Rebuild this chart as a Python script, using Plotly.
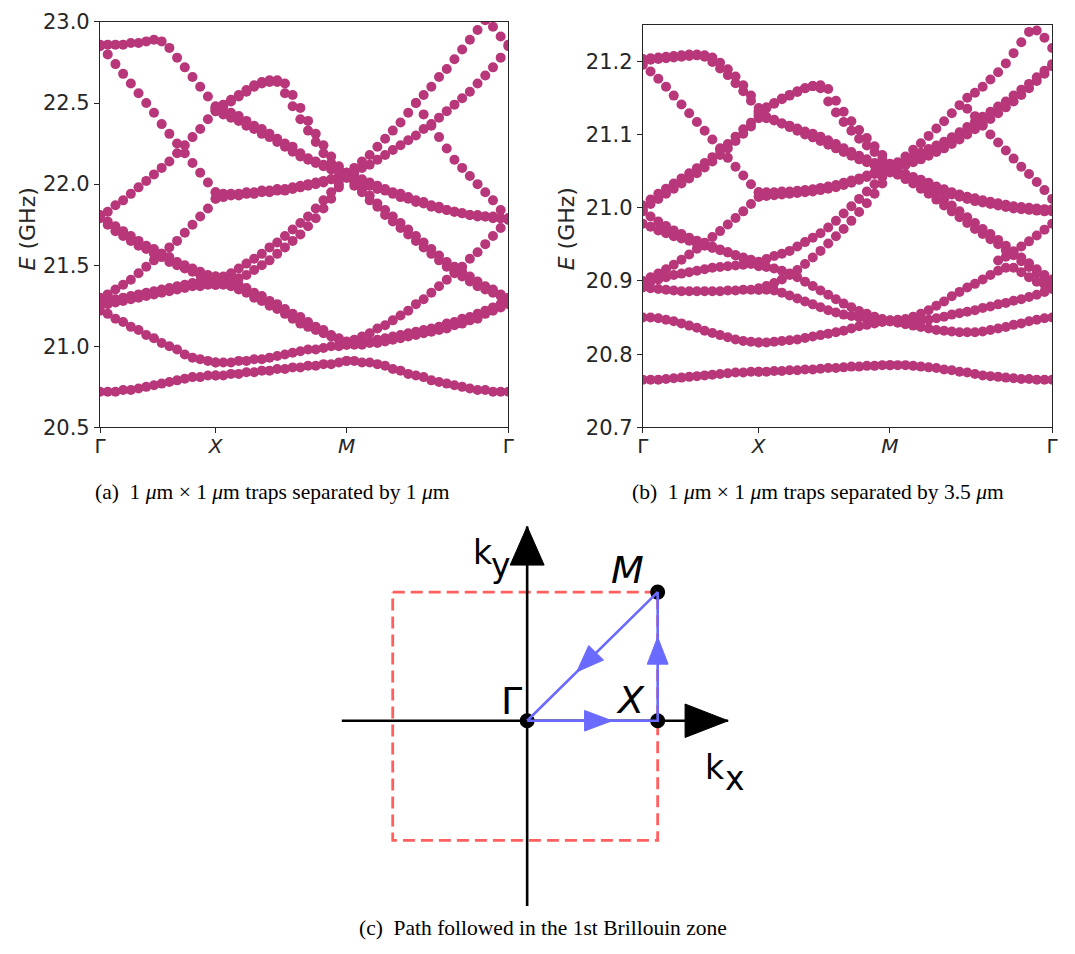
import plotly.graph_objects as go

# ---------------- band-structure data ----------------
# k-path sample index: Γ=0, X=15, M=32, Γ=53
path_ticks = [0, 15, 32, 53]
path_labels = ["Γ", "<i>X</i>", "<i>M</i>", "Γ"]
seg_start = [0, 15, 32]

# panel (a): 1 µm separation -- energies in GHz
a_gx = [
    [20.72, 20.72, 20.72, 20.73, 20.73, 20.74, 20.75, 20.76, 20.77, 20.78, 20.79, 20.80, 20.81, 20.81, 20.82, 20.82],
    [21.22, 21.20, 21.17, 21.15, 21.12, 21.10, 21.07, 21.05, 21.02, 21.00, 20.98, 20.95, 20.93, 20.92, 20.91, 20.90],
    [21.25, 21.26, 21.27, 21.28, 21.29, 21.30, 21.31, 21.32, 21.33, 21.34, 21.35, 21.36, 21.37, 21.37, 21.38, 21.38],
    [21.27, 21.28, 21.29, 21.30, 21.31, 21.32, 21.33, 21.34, 21.35, 21.36, 21.37, 21.38, 21.39, 21.40, 21.40, 21.40],
    [21.30, 21.32, 21.35, 21.38, 21.41, 21.45, 21.49, 21.53, 21.57, 21.61, 21.65, 21.70, 21.75, 21.80, 21.85, 21.91],
    [21.79, 21.75, 21.71, 21.68, 21.65, 21.62, 21.60, 21.57, 21.55, 21.52, 21.50, 21.48, 21.46, 21.44, 21.43, 21.42],
    [21.81, 21.77, 21.74, 21.71, 21.68, 21.65, 21.62, 21.60, 21.57, 21.55, 21.52, 21.50, 21.48, 21.46, 21.44, 21.43],
    [21.80, 21.83, 21.87, 21.90, 21.94, 21.98, 22.02, 22.06, 22.10, 22.14, 22.19, 22.24, 22.29, 22.34, 22.40, 22.45],
    [22.85, 22.80, 22.74, 22.68, 22.62, 22.56, 22.50, 22.44, 22.37, 22.31, 22.25, 22.19, 22.13, 22.07, 22.01, 21.95],
    [22.86, 22.86, 22.86, 22.86, 22.87, 22.87, 22.88, 22.89, 22.88, 22.84, 22.78, 22.72, 22.66, 22.60, 22.54, 22.48],
]
a_xm = [
    [20.82, 20.82, 20.83, 20.83, 20.84, 20.84, 20.85, 20.85, 20.86, 20.86, 20.87, 20.87, 20.88, 20.88, 20.89, 20.89, 20.90, 20.91],
    [20.90, 20.90, 20.90, 20.91, 20.91, 20.92, 20.92, 20.93, 20.94, 20.95, 20.96, 20.97, 20.98, 20.98, 20.99, 21.00, 21.00, 21.01],
    [21.38, 21.38, 21.37, 21.35, 21.33, 21.30, 21.28, 21.25, 21.23, 21.20, 21.17, 21.14, 21.12, 21.10, 21.08, 21.06, 21.04, 21.02],
    [21.43, 21.42, 21.40, 21.38, 21.36, 21.33, 21.31, 21.28, 21.26, 21.23, 21.20, 21.18, 21.15, 21.12, 21.10, 21.07, 21.05, 21.03],
    [21.40, 21.43, 21.45, 21.48, 21.51, 21.54, 21.57, 21.61, 21.64, 21.68, 21.72, 21.76, 21.80, 21.85, 21.90, 21.95, 22.00, 22.05],
    [21.38, 21.39, 21.40, 21.42, 21.44, 21.47, 21.50, 21.53, 21.57, 21.61, 21.65, 21.69, 21.74, 21.79, 21.85, 21.91, 21.98, 22.04],
    [21.95, 21.94, 21.94, 21.94, 21.95, 21.95, 21.96, 21.96, 21.97, 21.97, 21.98, 21.99, 22.00, 22.01, 22.02, 22.03, 22.05, 22.06],
    [21.91, 21.92, 21.93, 21.93, 21.94, 21.94, 21.95, 21.95, 21.96, 21.96, 21.97, 21.98, 21.99, 22.00, 22.01, 22.03, 22.04, 22.06],
    [22.47, 22.45, 22.44, 22.42, 22.39, 22.36, 22.34, 22.31, 22.28, 22.25, 22.23, 22.19, 22.16, 22.14, 22.12, 22.10, 22.08, 22.07],
    [22.45, 22.43, 22.41, 22.39, 22.36, 22.34, 22.31, 22.29, 22.26, 22.23, 22.20, 22.17, 22.15, 22.13, 22.11, 22.09, 22.08, 22.06],
    [22.47, 22.49, 22.52, 22.55, 22.58, 22.61, 22.63, 22.64, 22.63, 22.56, 22.48, 22.40, 22.33, 22.26, 22.19, 22.13, 22.09, 22.07],
    [22.46, 22.48, 22.51, 22.54, 22.57, 22.60, 22.62, 22.63, 22.64, 22.62, 22.55, 22.47, 22.39, 22.31, 22.24, 22.17, 22.11, 22.07],
]
a_mg = [
    [20.91, 20.91, 20.90, 20.90, 20.89, 20.88, 20.86, 20.85, 20.83, 20.82, 20.81, 20.79, 20.78, 20.77, 20.76, 20.75, 20.74, 20.73, 20.73, 20.72, 20.72, 20.72],
    [21.01, 21.01, 21.01, 21.02, 21.02, 21.03, 21.04, 21.05, 21.06, 21.07, 21.08, 21.09, 21.10, 21.11, 21.13, 21.14, 21.16, 21.17, 21.20, 21.22, 21.24, 21.26],
    [21.02, 21.02, 21.03, 21.03, 21.04, 21.05, 21.06, 21.07, 21.08, 21.09, 21.10, 21.11, 21.12, 21.14, 21.15, 21.17, 21.18, 21.20, 21.22, 21.24, 21.26, 21.28],
    [21.02, 21.04, 21.06, 21.08, 21.11, 21.13, 21.16, 21.19, 21.22, 21.26, 21.29, 21.33, 21.37, 21.41, 21.45, 21.49, 21.54, 21.58, 21.63, 21.68, 21.73, 21.78],
    [22.05, 22.01, 21.97, 21.93, 21.88, 21.84, 21.80, 21.76, 21.72, 21.68, 21.64, 21.60, 21.56, 21.52, 21.49, 21.46, 21.43, 21.40, 21.37, 21.35, 21.32, 21.30],
    [22.04, 21.99, 21.95, 21.90, 21.86, 21.81, 21.77, 21.73, 21.69, 21.65, 21.61, 21.57, 21.53, 21.49, 21.46, 21.43, 21.40, 21.37, 21.35, 21.33, 21.31, 21.29],
    [22.06, 22.04, 22.03, 22.01, 21.99, 21.97, 21.95, 21.94, 21.92, 21.90, 21.89, 21.87, 21.86, 21.84, 21.83, 21.82, 21.81, 21.81, 21.80, 21.80, 21.79, 21.79],
    [22.05, 22.03, 22.01, 21.99, 21.97, 21.96, 21.94, 21.92, 21.91, 21.89, 21.88, 21.86, 21.85, 21.84, 21.83, 21.82, 21.81, 21.80, 21.80, 21.79, 21.79, 21.78],
    [22.06, 22.10, 22.14, 22.18, 22.23, 22.28, 22.33, 22.38, 22.44, 22.50, 22.55, 22.60, 22.66, 22.71, 22.77, 22.83, 22.89, 22.95, 23.01, 22.97, 22.91, 22.86],
    [22.05, 22.07, 22.10, 22.12, 22.15, 22.18, 22.21, 22.24, 22.27, 22.30, 22.34, 22.37, 22.41, 22.45, 22.49, 22.53, 22.57, 22.62, 22.67, 22.72, 22.78, 22.85],
    [None, None, None, None, None, None, None, None, None, 22.50, 22.43, 22.36, 22.29, 22.22, 22.15, 22.10, 22.05, 22.00, 21.95, 21.90, 21.84, 21.79],
]

# panel (b): 3.5 µm separation -- energies in GHz
b_gx = [
    [20.765, 20.765, 20.765, 20.766, 20.767, 20.768, 20.769, 20.770, 20.771, 20.772, 20.773, 20.774, 20.775, 20.775, 20.776, 20.776],
    [20.850, 20.850, 20.849, 20.847, 20.845, 20.842, 20.839, 20.836, 20.832, 20.829, 20.826, 20.823, 20.820, 20.818, 20.817, 20.816],
    [20.891, 20.890, 20.889, 20.888, 20.887, 20.886, 20.886, 20.886, 20.886, 20.886, 20.886, 20.887, 20.887, 20.888, 20.888, 20.888],
    [20.896, 20.899, 20.902, 20.905, 20.908, 20.910, 20.912, 20.914, 20.916, 20.918, 20.919, 20.920, 20.921, 20.922, 20.923, 20.924],
    [20.900, 20.905, 20.910, 20.916, 20.922, 20.929, 20.936, 20.944, 20.952, 20.960, 20.968, 20.977, 20.986, 20.995, 21.005, 21.015],
    [20.978, 20.974, 20.969, 20.965, 20.961, 20.958, 20.955, 20.951, 20.948, 20.945, 20.942, 20.939, 20.935, 20.932, 20.929, 20.926],
    [20.995, 20.988, 20.981, 20.975, 20.969, 20.964, 20.959, 20.955, 20.951, 20.947, 20.943, 20.939, 20.935, 20.931, 20.927, 20.924],
    [21.003, 21.011, 21.019, 21.026, 21.033, 21.040, 21.047, 21.054, 21.061, 21.069, 21.078, 21.087, 21.097, 21.107, 21.116, 21.125],
    [20.998, 21.005, 21.012, 21.019, 21.026, 21.033, 21.040, 21.047, 21.055, 21.063, 21.072, 21.081, 21.091, 21.101, 21.111, 21.122],
    [21.195, 21.186, 21.176, 21.165, 21.153, 21.141, 21.129, 21.117, 21.105, 21.093, 21.081, 21.068, 21.056, 21.044, 21.032, 21.021],
    [21.203, 21.204, 21.205, 21.206, 21.207, 21.208, 21.209, 21.209, 21.206, 21.199, 21.190, 21.181, 21.170, 21.159, 21.146, 21.132],
    [21.201, 21.202, 21.203, 21.204, 21.205, 21.206, 21.207, 21.208, 21.208, 21.205, 21.198, 21.189, 21.179, 21.167, 21.153, 21.136],
]
b_xm = [
    [20.776, 20.776, 20.777, 20.777, 20.778, 20.778, 20.779, 20.779, 20.780, 20.781, 20.781, 20.782, 20.783, 20.783, 20.784, 20.784, 20.785, 20.785],
    [20.816, 20.816, 20.817, 20.818, 20.819, 20.820, 20.822, 20.824, 20.826, 20.828, 20.830, 20.832, 20.835, 20.838, 20.840, 20.842, 20.844, 20.845],
    [20.888, 20.888, 20.887, 20.884, 20.880, 20.876, 20.872, 20.868, 20.864, 20.860, 20.857, 20.854, 20.852, 20.850, 20.848, 20.847, 20.846, 20.845],
    [20.920, 20.919, 20.917, 20.914, 20.910, 20.905, 20.899, 20.893, 20.887, 20.881, 20.875, 20.869, 20.864, 20.859, 20.855, 20.851, 20.848, 20.846],
    [20.925, 20.930, 20.934, 20.937, 20.941, 20.947, 20.953, 20.959, 20.965, 20.973, 20.982, 20.992, 21.002, 21.012, 21.022, 21.032, 21.042, 21.052],
    [20.890, 20.893, 20.897, 20.902, 20.908, 20.915, 20.923, 20.932, 20.941, 20.951, 20.961, 20.971, 20.982, 20.994, 21.006, 21.019, 21.033, 21.048],
    [21.021, 21.021, 21.021, 21.022, 21.022, 21.023, 21.024, 21.025, 21.027, 21.029, 21.031, 21.034, 21.037, 21.040, 21.044, 21.048, 21.052, 21.055],
    [21.015, 21.016, 21.017, 21.018, 21.019, 21.020, 21.021, 21.022, 21.024, 21.026, 21.028, 21.031, 21.034, 21.038, 21.042, 21.046, 21.050, 21.054],
    [21.125, 21.122, 21.119, 21.115, 21.112, 21.108, 21.104, 21.101, 21.097, 21.092, 21.087, 21.081, 21.076, 21.071, 21.066, 21.061, 21.057, 21.055],
    [21.128, 21.124, 21.120, 21.115, 21.110, 21.105, 21.100, 21.096, 21.091, 21.086, 21.081, 21.076, 21.071, 21.066, 21.062, 21.058, 21.055, 21.053],
    [21.130, 21.136, 21.142, 21.148, 21.153, 21.158, 21.163, 21.166, 21.163, 21.145, 21.130, 21.117, 21.105, 21.094, 21.085, 21.076, 21.066, 21.057],
    [21.132, 21.137, 21.143, 21.149, 21.154, 21.159, 21.163, 21.166, 21.167, 21.162, 21.146, 21.131, 21.118, 21.106, 21.095, 21.084, 21.072, 21.060],
]
b_mg = [
    [20.785, 20.785, 20.785, 20.784, 20.783, 20.782, 20.781, 20.779, 20.778, 20.776, 20.775, 20.773, 20.771, 20.770, 20.769, 20.768, 20.767, 20.766, 20.766, 20.765, 20.765, 20.765],
    [20.845, 20.843, 20.841, 20.839, 20.837, 20.835, 20.833, 20.832, 20.831, 20.830, 20.830, 20.830, 20.831, 20.833, 20.835, 20.837, 20.840, 20.842, 20.845, 20.847, 20.849, 20.850],
    [20.846, 20.846, 20.846, 20.846, 20.846, 20.847, 20.849, 20.851, 20.854, 20.856, 20.858, 20.860, 20.863, 20.865, 20.868, 20.870, 20.873, 20.875, 20.878, 20.881, 20.885, 20.889],
    [20.846, 20.847, 20.848, 20.851, 20.855, 20.860, 20.866, 20.872, 20.879, 20.885, 20.891, 20.896, 20.902, 20.908, 20.914, 20.918, 20.918, 20.912, 20.905, 20.899, 20.895, 20.893],
    [None, None, None, None, None, None, None, None, None, None, None, None, None, None, 20.928, 20.933, 20.940, 20.947, 20.954, 20.962, 20.970, 20.978],
    [21.052, 21.048, 21.043, 21.038, 21.032, 21.026, 21.019, 21.011, 21.003, 20.995, 20.987, 20.979, 20.971, 20.964, 20.956, 20.948, 20.940, 20.932, 20.924, 20.916, 20.908, 20.902],
    [21.050, 21.045, 21.039, 21.033, 21.026, 21.019, 21.011, 21.003, 20.995, 20.987, 20.979, 20.971, 20.964, 20.957, 20.950, 20.942, 20.935, 20.927, 20.919, 20.911, 20.904, 20.899],
    [21.055, 21.050, 21.046, 21.042, 21.038, 21.034, 21.029, 21.025, 21.021, 21.018, 21.015, 21.013, 21.010, 21.008, 21.006, 21.004, 21.002, 21.001, 21.000, 20.999, 20.998, 20.998],
    [21.053, 21.048, 21.043, 21.038, 21.034, 21.030, 21.026, 21.022, 21.018, 21.015, 21.012, 21.009, 21.007, 21.005, 21.003, 21.001, 20.999, 20.998, 20.997, 20.996, 20.995, 20.995],
    [21.055, 21.062, 21.070, 21.079, 21.088, 21.098, 21.108, 21.118, 21.129, 21.140, 21.150, 21.157, 21.165, 21.175, 21.185, 21.197, 21.211, 21.226, 21.240, 21.242, 21.232, 21.218],
    [21.055, 21.060, 21.065, 21.070, 21.075, 21.080, 21.085, 21.090, 21.096, 21.103, 21.110, 21.117, 21.124, 21.131, 21.138, 21.145, 21.153, 21.161, 21.169, 21.178, 21.187, 21.196],
    [21.052, 21.055, 21.058, 21.062, 21.066, 21.071, 21.076, 21.081, 21.087, 21.093, 21.100, 21.107, 21.114, 21.121, 21.129, 21.137, 21.145, 21.154, 21.163, 21.173, 21.183, 21.193],
    [None, None, None, None, None, None, None, None, None, None, 21.135, 21.125, 21.112, 21.100, 21.089, 21.078, 21.067, 21.056, 21.046, 21.035, 21.024, 21.012],
]

a_yrange = [20.5, 23.0]
a_yticks = [20.5, 21.0, 21.5, 22.0, 22.5, 23.0]
b_yrange = [20.7, 21.25]
b_yticks = [20.7, 20.8, 20.9, 21.0, 21.1, 21.2]

# ---------------- Brillouin-zone sketch data (k in units of π/a) ----------------
bz_names = ["Γ", "X", "M"]
bz_kx = [0.0, 1.0, 1.0]
bz_ky = [0.0, 0.0, 1.0]
path_order = [0, 1, 2, 0]
zone_kx = [-1.03, 1.0, 1.0, -1.03, -1.03]
zone_ky = [1.0, 1.0, -0.93, -0.93, 1.0]
kx_axis_ext = [-1.42, 1.54]
ky_axis_ext = [-1.44, 1.51]

# ---------------- styles / page geometry ----------------
DOT = "#b8377a"
INK = "#262626"
BLUE = "#6a6aff"
RED = "#ff5f5f"
SANS = "DejaVu Sans"
SERIF = "Liberation Serif"
OFF = 8                      # default page margin around the plot div
W, H = 1075 - OFF, 954 - OFF
EPS = 1e-6


def fx(px):   # page pixel -> paper x
    return (px - OFF) / W


def fy(py):   # page pixel -> paper y
    return 1 - (py - OFF) / H


def collect(segments):
    xs, ys = [], []
    for start, bands in zip(seg_start, segments):
        for band in bands:
            for j, e in enumerate(band):
                if e is not None:
                    xs.append(start + j)
                    ys.append(e)
    return xs, ys


def triangle(tip, direction, length, half):
    dx, dy = direction
    n = (dx * dx + dy * dy) ** 0.5
    dx, dy = dx / n, dy / n
    bx, by = tip[0] - dx * length, tip[1] - dy * length
    px, py = -dy * half, dx * half
    return [tip[0], bx + px, bx - px, tip[0]], [tip[1], by + py, by - py, tip[1]]


fig = go.Figure()

for segs, xa, ya in [((a_gx, a_xm, a_mg), "x", "y"), ((b_gx, b_xm, b_mg), "x2", "y2")]:
    xs, ys = collect(segs)
    fig.add_trace(go.Scatter(x=xs, y=ys, mode="markers", xaxis=xa, yaxis=ya,
                             marker=dict(size=10, color=DOT, line=dict(width=0)),
                             hoverinfo="skip", showlegend=False))

# --- Brillouin zone sketch ---
fig.add_trace(go.Scatter(x=zone_kx, y=zone_ky, mode="lines", xaxis="x3", yaxis="y3",
                         line=dict(color=RED, width=2.8, dash="12px,6px"),
                         hoverinfo="skip", showlegend=False))
fig.add_trace(go.Scatter(x=kx_axis_ext, y=[0, 0], mode="lines", xaxis="x3", yaxis="y3",
                         line=dict(color="black", width=2.6), hoverinfo="skip", showlegend=False))
fig.add_trace(go.Scatter(x=[0, 0], y=ky_axis_ext, mode="lines", xaxis="x3", yaxis="y3",
                         line=dict(color="black", width=2.6), hoverinfo="skip", showlegend=False))
for tip, d, ln in [((kx_axis_ext[1], 0.0), (1, 0), 0.33), ((0.0, ky_axis_ext[1]), (0, 1), 0.30)]:
    tx, ty = triangle(tip, d, ln, 0.13)
    fig.add_trace(go.Scatter(x=tx, y=ty, mode="lines", fill="toself", fillcolor="black",
                             xaxis="x3", yaxis="y3", line=dict(color="black", width=1),
                             hoverinfo="skip", showlegend=False))
fig.add_trace(go.Scatter(x=bz_kx, y=bz_ky, mode="markers", xaxis="x3", yaxis="y3",
                         marker=dict(size=15, color="black"), hoverinfo="skip", showlegend=False))
px_ = [bz_kx[i] for i in path_order]
py_ = [bz_ky[i] for i in path_order]
fig.add_trace(go.Scatter(x=px_, y=py_, mode="lines", xaxis="x3", yaxis="y3",
                         line=dict(color=BLUE, width=2.6), hoverinfo="skip", showlegend=False))
for s in range(3):
    x0, y0, x1, y1 = px_[s], py_[s], px_[s + 1], py_[s + 1]
    f = 0.65 if s < 2 else 0.62
    tip = (x0 + f * (x1 - x0), y0 + f * (y1 - y0))
    tx, ty = triangle(tip, (x1 - x0, y1 - y0), 0.21, 0.08)
    fig.add_trace(go.Scatter(x=tx, y=ty, mode="lines", fill="toself", fillcolor=BLUE,
                             xaxis="x3", yaxis="y3", line=dict(color=BLUE, width=1),
                             hoverinfo="skip", showlegend=False))

annotations = []
label_off = [(-0.12, 0.15), (-0.21, 0.16), (-0.23, 0.17)]
label_txt = ["Γ", "<i>X</i>", "<i>M</i>"]
for i in range(3):
    annotations.append(dict(x=bz_kx[i] + label_off[i][0], y=bz_ky[i] + label_off[i][1],
                            xref="x3", yref="y3", text=label_txt[i], showarrow=False,
                            xanchor="center", yanchor="middle",
                            font=dict(family=SANS, size=38, color="black")))
for t, x, y in [("k", -0.34, 1.31), ("y", -0.20, 1.21), ("k", 1.44, -0.36), ("x", 1.59, -0.45)]:
    annotations.append(dict(x=x, y=y, xref="x3", yref="y3", text=t, showarrow=False,
                            xanchor="center", yanchor="middle",
                            font=dict(family=SANS, size=33, color="black")))

# y titles
for xp in [22, 567]:
    annotations.append(dict(x=fx(xp), y=fy(222), xref="paper", yref="paper",
                            text="<i>E</i> (GHz)", textangle=-90, showarrow=False,
                            xanchor="center", yanchor="middle",
                            font=dict(family=SANS, size=22, color=INK)))
# captions
mu = "<i>μ</i>m"
caps = [
    ("(a)\u00a0\u00a01 " + mu + " × 1 " + mu + " traps separated by 1 " + mu, 269, 492),
    ("(b)\u00a0\u00a01 " + mu + " × 1 " + mu + " traps separated by 3.5 " + mu, 821, 492),
    ("(c)\u00a0\u00a0Path followed in the 1st Brillouin zone", 543, 940),
]
for t, x, y in caps:
    annotations.append(dict(x=fx(x), y=fy(y), xref="paper", yref="paper", text=t, showarrow=False,
                            xanchor="center", yanchor="middle",
                            font=dict(family=SERIF, size=21.5, color="black")))

xcommon = dict(range=[0, 53], tickmode="array", tickvals=path_ticks, ticktext=path_labels,
               ticks="outside", ticklen=5, tickwidth=1.2, tickcolor=INK,
               showline=True, linecolor=INK, linewidth=1.2, mirror=True,
               showgrid=False, zeroline=False, ticklabelstandoff=-4,
               tickfont=dict(family=SANS, size=20, color=INK))
ycommon = dict(ticks="outside", ticklen=5, tickwidth=1.2, tickcolor=INK,
               showline=True, linecolor=INK, linewidth=1.2, mirror=True,
               showgrid=False, zeroline=False, tickformat=".1f",
               ticklabeloverflow="allow",
               tickfont=dict(family=SANS, size=21, color=INK))

fig.update_layout(
    width=W, height=H, margin=dict(l=0, r=0, t=0, b=0),
    paper_bgcolor="white", plot_bgcolor="white", showlegend=False,
    xaxis=dict(domain=[fx(95), fx(508)], anchor="y", **xcommon),
    yaxis=dict(domain=[fy(426), fy(10)], anchor="x",
               range=[a_yrange[0] - EPS, a_yrange[1] + EPS],
               tickvals=a_yticks, **ycommon),
    xaxis2=dict(domain=[fx(644), fx(1058)], anchor="y2", **xcommon),
    yaxis2=dict(domain=[fy(426), fy(12.7)], anchor="x2",
                range=[b_yrange[0] - EPS, b_yrange[1]],
                tickvals=b_yticks, **ycommon),
    xaxis3=dict(domain=[fx(330), fx(760)], anchor="y3", range=[-1.4924, 1.7652],
                visible=False, fixedrange=True),
    yaxis3=dict(domain=[fy(930), fy(520)], anchor="x3", range=[-1.5379, 1.5682],
                visible=False, fixedrange=True),
    annotations=annotations,
)

fig.write_html("out.html")
